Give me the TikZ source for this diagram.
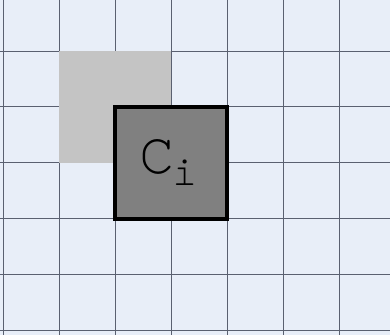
\documentclass[tikz,border=0pt]{standalone}
\usepackage{fontspec}
\newfontfamily\labelmono{texgyrecursor-regular.otf}
\definecolor{bgblue}{HTML}{E8EEF8}
\definecolor{gridline}{HTML}{5A6070}
\definecolor{lightsq}{HTML}{C4C4C4}
\definecolor{darksq}{HTML}{808080}
\tikzset{
  gridstroke/.style={draw=gridline, line width=0.8pt},
  lightcell/.style={fill=lightsq, draw=none},
  darkcell/.style={fill=darksq, draw=black, line width=4pt},
}
\begin{document}
\begin{tikzpicture}[x=1pt,y=-1pt]
\fill[bgblue] (0,0) rectangle (390,335);
\useasboundingbox (0,0) rectangle (390,335);
\foreach \i in {0,...,6} {
  \draw[gridstroke] ({3+56*\i},0) -- ({3+56*\i},335);
}
\foreach \j in {0,...,5} {
  \draw[gridstroke] (0,{51+55.8*\j}) -- (390,{51+55.8*\j});
}
\fill[lightcell] (59,51) rectangle (171,163);
\coordinate (cinw) at (115,107);
\coordinate (cise) at (227,219);
\draw[darkcell] (cinw) rectangle (cise);
\node[inner sep=0pt, anchor=base west] (label) at (139,173.3) {\labelmono\fontsize{59}{59}\selectfont C\kern-2pt\raisebox{-12.4pt}{\fontsize{42}{42}\selectfont i}};
\end{tikzpicture}
\end{document}
